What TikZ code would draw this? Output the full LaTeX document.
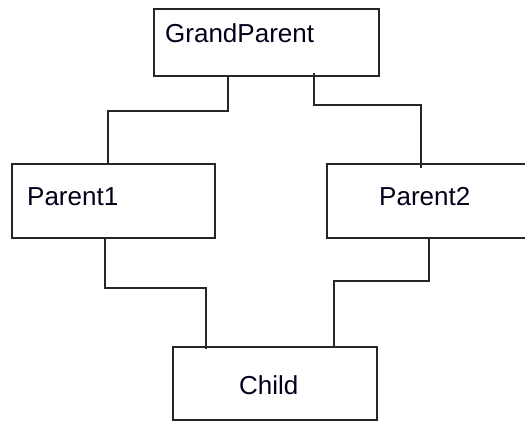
\documentclass[tikz,border=0pt]{standalone}
\usepackage{fontspec}
\setmainfont{Liberation Sans}
\usetikzlibrary{calc}
\begin{document}
\begin{tikzpicture}[x=1pt,y=1pt,
  box/.style={draw=black!85, line width=1.6pt, rectangle, inner sep=0pt, outer sep=0pt},
  lbl/.style={anchor=base west, inner sep=0pt, font=\fontsize{26}{30}\selectfont, text=black!90!blue},
  link/.style={draw=black!85, line width=1.6pt}]
\useasboundingbox (0,0) rectangle (525,421);
% boxes (centres in px, y flipped)
\node[box, minimum width=225pt, minimum height=67pt] (GP) at (266.5,378.5) {};
\node[box, minimum width=203pt, minimum height=74pt] (P1) at (113.5,220) {};
\node[box, minimum width=203pt, minimum height=74pt] (P2) at (428.5,220) {};
\node[box, minimum width=204pt, minimum height=73pt] (C) at (275,37.5) {};
% labels
\node[lbl] (tGP) at (165,378) {GrandParent};
\node[lbl] (tP1) at (27,215) {Parent1};
\node[lbl] (tP2) at (379,215) {Parent2};
\node[lbl] (tC) at (239,27) {Child};
% connectors
\draw[link] ($(GP.south west)+(74,0)$) |- ($(P1.north west)+(96,53)$) -- (P1.north west -| {$(P1.north west)+(96,0)$});
\draw[link] ($(GP.south west)+(160,3)$) |- ($(P2.north west)+(94,59)$) -- ($(P2.north west)+(94,-4)$);
\draw[link] ($(P1.south west)+(93,0)$) |- ($(C.north west)+(33,59)$) -- ($(C.north west)+(33,-2)$);
\draw[link] ($(P2.south west)+(102,0)$) |- ($(C.north west)+(161,66)$) -- (C.north west -| {$(C.north west)+(161,0)$});
\end{tikzpicture}
\end{document}
